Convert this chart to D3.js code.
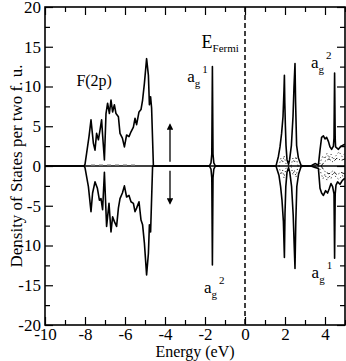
<!DOCTYPE html>
<html>
<head>
<meta charset="utf-8">
<script src="https://cdn.jsdelivr.net/npm/d3@7"></script>
<style>
  body { margin: 0; background: #fff; }
  svg { display: block; font-family: "Liberation Serif", "Times New Roman", serif; }
  .tick text { font-size: 17px; fill: #000; font-family: "Liberation Serif", "Times New Roman", serif; }
  .tick line { stroke: #000; stroke-width: 1.2; }
</style>
</head>
<body>
<div class="dos"></div>
<script>
// energies (eV) and states
var spinUp = [
  [-10, 0], [-8.05, 0], [-8.0, 0.2], [-7.92, 1.6], [-7.8, 3.7], [-7.7, 5.8], [-7.58, 2.85], [-7.5, 2.0],
  [-7.42, 4.1], [-7.33, 3.3], [-7.25, 4.5], [-7.17, 5.8], [-7.12, 3.9], [-7.03, 0.75], [-6.95, 6.6],
  [-6.87, 7.9], [-6.78, 6.6], [-6.7, 8.3], [-6.62, 6.8], [-6.53, 7.7], [-6.45, 6.6], [-6.33, 6.2],
  [-6.25, 4.1], [-6.13, 3.5], [-6.03, 2.4], [-5.92, 3.9], [-5.8, 3.7], [-5.7, 4.3], [-5.58, 4.9],
  [-5.5, 6.0], [-5.42, 5.2], [-5.3, 6.8], [-5.2, 7.1], [-5.12, 8.3], [-5.03, 10.4], [-4.92, 13.5],
  [-4.83, 11.4], [-4.78, 7.7], [-4.72, 8.7], [-4.67, 7.3], [-4.58, 0],
  [-1.78, 0], [-1.7, 0.4], [-1.66, 1.5], [-1.63, 12.5], [-1.6, 1.5], [-1.56, 0.4], [-1.48, 0],
  [1.55, 0], [1.58, 0.3], [1.67, 1.2], [1.75, 2.4], [1.83, 4.1], [1.9, 6.2], [1.95, 9.6], [1.97, 11.4],
  [1.99, 8], [2.02, 5], [2.05, 2.6], [2.1, 0.8], [2.18, 0.2], [2.23, 0.8], [2.32, 2.6], [2.4, 6.2],
  [2.45, 10], [2.5, 12.9], [2.53, 8], [2.58, 2.6], [2.67, 1.0], [2.8, 0.1], [2.9, 0],
  [3.3, 0], [3.4, 0.15], [3.5, 0.3], [3.6, 0.2], [3.67, 0.1], [3.75, 2.0], [3.83, 3.6], [3.92, 3.8],
  [4.0, 3.4], [4.08, 3.6], [4.17, 3.1], [4.25, 2.4], [4.33, 2.1], [4.42, 2.5], [4.45, 3.5], [4.48, 11.7],
  [4.51, 3.5], [4.53, 2.4], [4.67, 2.1], [4.8, 2.5], [4.97, 2.7], [5, 2.7]
];

var spinDown = [
  [-10, 0], [-8.05, 0], [-8.0, -0.2], [-7.83, -2.6], [-7.7, -5.75], [-7.62, -3.4], [-7.5, -2.0],
  [-7.38, -2.8], [-7.28, -4.3], [-7.2, -4.1], [-7.12, -5.5], [-7.03, -0.8], [-6.92, -7.6], [-6.8, -4.7],
  [-6.7, -8.3], [-6.62, -6.4], [-6.53, -7.0], [-6.42, -7.6], [-6.33, -5.3], [-6.25, -4.1], [-6.13, -3.4],
  [-6.03, -2.5], [-5.92, -3.9], [-5.8, -3.7], [-5.7, -4.5], [-5.58, -4.7], [-5.5, -5.75], [-5.42, -5.3],
  [-5.3, -4.5], [-5.2, -6.8], [-5.12, -7.4], [-5.03, -9.7], [-4.92, -13.7], [-4.83, -11.0], [-4.78, -7.4],
  [-4.72, -8.3], [-4.62, 0],
  [-1.78, 0], [-1.7, -0.4], [-1.66, -1.5], [-1.63, -12.45], [-1.6, -1.5], [-1.56, -0.4], [-1.48, 0],
  [1.55, 0], [1.6, -0.4], [1.7, -1.2], [1.78, -2.6], [1.85, -4.3], [1.92, -7], [1.97, -11.5],
  [2.0, -6], [2.04, -2.6], [2.1, -0.8], [2.18, -0.2], [2.24, -0.8], [2.33, -2.6], [2.41, -6.2],
  [2.46, -10], [2.5, -12.9], [2.54, -7], [2.59, -2.6], [2.68, -1.0], [2.8, -0.1], [2.9, 0],
  [3.3, 0], [3.5, -0.2], [3.67, -0.3], [3.75, -2.8], [3.83, -3.4], [3.92, -3.7], [4.03, -3.1],
  [4.13, -3.4], [4.22, -2.8], [4.3, -2.2], [4.38, -2.6], [4.45, -3.5], [4.48, -11.6], [4.51, -3.5],
  [4.55, -2.4], [4.63, -2.0], [4.75, -2.3], [4.87, -1.8], [4.97, -1.6], [5, -1.6]
];

var dottedUp = [
  [1.7, 0], [1.8, 1.0], [1.88, 0.4], [1.95, 1.3], [2.05, 0.3], [2.15, 0],
  [2.3, 0], [2.4, 1.0], [2.47, 0.4], [2.55, 1.2], [2.65, 0],
  [3.7, 0], [3.8, 0.7], [3.9, 1.3], [4.0, 0.9], [4.1, 1.6], [4.2, 1.0], [4.3, 1.5], [4.4, 0.8],
  [4.55, 1.3], [4.7, 1.8], [4.85, 1.2], [5, 1.6]
];
var dottedDown = [
  [1.7, 0], [1.8, -1.1], [1.88, -0.5], [1.95, -1.5], [2.05, -0.3], [2.15, 0],
  [2.3, 0], [2.4, -1.1], [2.47, -0.5], [2.55, -1.4], [2.65, 0],
  [3.7, 0], [3.8, -0.9], [3.9, -1.6], [4.0, -1.0], [4.1, -1.8], [4.2, -1.2], [4.3, -1.6], [4.4, -0.8],
  [4.55, -1.4], [4.7, -1.7], [4.85, -1.2], [5, -1.4]
];
var dashDotUp = [[3.8, 0], [4.0, 0.6], [4.2, 0.9], [4.4, 0.5], [4.6, 1.0], [4.8, 0.7], [5, 0.9]];
var dashDotDown = [[3.8, 0], [4.0, -0.7], [4.2, -1.0], [4.4, -0.6], [4.6, -1.1], [4.8, -0.8], [5, -1.0]];
var fluorineUp = [[-7.7, 0.1], [-7.3, 0.1], [-6.9, 0.1], [-6.5, 0.1], [-6.1, 0.1], [-5.7, 0.1], [-5.4, 0.1]];

var xMajor = [-10, -8, -6, -4, -2, 0, 2, 4];
var xMinor = [-9, -7, -5, -3, -1, 1, 3, 5];
var yMajor = [-20, -15, -10, -5, 0, 5, 10, 15, 20];
var yMinor = [-17.5, -12.5, -7.5, -2.5, 2.5, 7.5, 12.5, 17.5];

(function() {
  'use strict';

  var width = 346;
  var height = 361;

  var svg = d3.select(".dos").append("svg")
    .attr("width", width)
    .attr("height", height);

  var x = d3.scaleLinear().domain([-10, 5]).range([45, 345]);
  var y = d3.scaleLinear().domain([-20, 20]).range([325, 7]);

  var line = d3.line()
    .x(function(d) { return x(d[0]); })
    .y(function(d) { return y(d[1]); });

  var plain = function(d) { return String(d); };
  var none = function() { return ""; };

  // ticks, all pointing inward
  var axes = svg.append("g").attr("class", "axes");
  axes.append("g").attr("transform", "translate(0," + y(-20) + ")")
    .call(d3.axisBottom(x).tickValues(xMajor).tickSize(-8).tickPadding(3).tickFormat(plain));
  axes.append("g").attr("transform", "translate(0," + y(-20) + ")")
    .call(d3.axisBottom(x).tickValues(xMinor).tickSize(-5).tickFormat(none));
  axes.append("g").attr("transform", "translate(0," + y(20) + ")")
    .call(d3.axisTop(x).tickValues(xMajor).tickSize(-8).tickFormat(none));
  axes.append("g").attr("transform", "translate(0," + y(20) + ")")
    .call(d3.axisTop(x).tickValues(xMinor).tickSize(-5).tickFormat(none));
  axes.append("g").attr("transform", "translate(" + x(-10) + ",0)")
    .call(d3.axisLeft(y).tickValues(yMajor).tickSize(-8).tickPadding(4).tickFormat(plain));
  axes.append("g").attr("transform", "translate(" + x(-10) + ",0)")
    .call(d3.axisLeft(y).tickValues(yMinor).tickSize(-5).tickFormat(none));
  axes.append("g").attr("transform", "translate(" + x(5) + ",0)")
    .call(d3.axisRight(y).tickValues(yMajor).tickSize(-8).tickFormat(none));
  axes.append("g").attr("transform", "translate(" + x(5) + ",0)")
    .call(d3.axisRight(y).tickValues(yMinor).tickSize(-5).tickFormat(none));
  axes.selectAll(".domain").remove();
  axes.selectAll("g").attr("font-family", null).attr("font-size", null);

  svg.append("defs").append("clipPath").attr("id", "plot")
    .append("rect")
    .attr("x", x(-10)).attr("y", y(20))
    .attr("width", x(5) - x(-10)).attr("height", y(-20) - y(20));

  var plot = svg.append("g").attr("clip-path", "url(#plot)");

  // zero line and Fermi level
  plot.append("line")
    .attr("x1", x(-10)).attr("x2", x(5))
    .attr("y1", y(0)).attr("y2", y(0))
    .attr("stroke", "#000").attr("stroke-width", 1.6);
  plot.append("line")
    .attr("x1", x(0)).attr("x2", x(0))
    .attr("y1", y(20)).attr("y2", y(-20))
    .attr("stroke", "#000").attr("stroke-width", 1.5)
    .attr("stroke-dasharray", "5,3");

  plot.append("path").datum(fluorineUp)
    .attr("d", line).attr("fill", "none")
    .attr("stroke", "#777").attr("stroke-width", 1.2).attr("stroke-dasharray", "4,4");

  [dottedUp, dottedDown].forEach(function(s) {
    plot.append("path").datum(s)
      .attr("d", line).attr("fill", "none")
      .attr("stroke", "#000").attr("stroke-width", 0.9).attr("stroke-dasharray", "1,2.5");
  });
  [dashDotUp, dashDotDown].forEach(function(s) {
    plot.append("path").datum(s)
      .attr("d", line).attr("fill", "none")
      .attr("stroke", "#000").attr("stroke-width", 0.9).attr("stroke-dasharray", "4,2,1,2");
  });

  [spinUp, spinDown].forEach(function(s) {
    plot.append("path").datum(s)
      .attr("d", line).attr("fill", "none")
      .attr("stroke", "#000").attr("stroke-width", 1.6)
      .attr("stroke-linejoin", "round");
  });

  // frame
  svg.append("rect")
    .attr("x", x(-10)).attr("y", y(20))
    .attr("width", x(5) - x(-10)).attr("height", y(-20) - y(20))
    .attr("fill", "none").attr("stroke", "#000").attr("stroke-width", 1.6);

  // spin arrows
  svg.append("defs").append("marker")
    .attr("id", "head")
    .attr("viewBox", "0 0 10 10")
    .attr("refX", 8).attr("refY", 5)
    .attr("markerWidth", 5).attr("markerHeight", 5)
    .attr("orient", "auto")
    .append("path").attr("d", "M0,0L10,5L0,10z").attr("fill", "#000");

  [[0.55, 5.2], [-0.6, -4.7]].forEach(function(a) {
    svg.append("line")
      .attr("x1", x(-3.75)).attr("x2", x(-3.75))
      .attr("y1", y(a[0])).attr("y2", y(a[1]))
      .attr("stroke", "#000").attr("stroke-width", 1.3)
      .attr("marker-end", "url(#head)");
  });

  // labels
  svg.append("text")
    .attr("x", x(-8.43)).attr("y", y(10.1))
    .attr("font-size", 16)
    .text("F(2p)");

  var fermi = svg.append("text")
    .attr("x", x(-2.17)).attr("y", y(14.9))
    .attr("font-size", 18);
  fermi.append("tspan").text("E");
  fermi.append("tspan").attr("font-size", 11).attr("dy", 4).text("Fermi");

  var ag = [
    { e: -2.89, v: 10.6, s: "1" },
    { e: 3.3, v: 12.3, s: "2" },
    { e: -2.05, v: -16.0, s: "2" },
    { e: 3.33, v: -14.1, s: "1" }
  ];
  ag.forEach(function(d) {
    var t = svg.append("text")
      .attr("x", x(d.e)).attr("y", y(d.v))
      .attr("font-size", 17);
    t.append("tspan").text("a");
    t.append("tspan").attr("font-size", 11).attr("dy", 5).text("g");
    t.append("tspan").attr("font-size", 11).attr("dx", 2).attr("dy", -14).text(d.s);
  });

  svg.append("text")
    .attr("x", x(-2.5)).attr("y", 357)
    .attr("text-anchor", "middle")
    .attr("font-size", 16)
    .text("Energy (eV)");

  svg.append("text")
    .attr("transform", "translate(22," + y(0) + ") rotate(-90)")
    .attr("text-anchor", "middle")
    .attr("font-size", 17)
    .text("Density of States per two f. u.");
})();
</script>
</body>
</html>
